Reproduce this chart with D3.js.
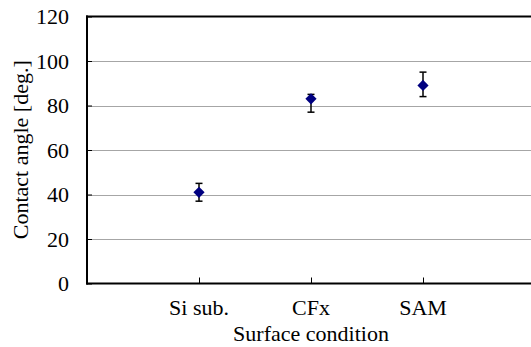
<!DOCTYPE html>
<meta charset="utf-8">
<script src="https://d3js.org/d3.v7.min.js"></script>
<style>
  body { margin: 0; background: #fff; }
</style>
<div id="chart"></div>
<script>

// data
var categories = ["Si sub.", "CFx", "SAM"];
var angle    = [41, 83, 89];
var errLow   = [37, 77, 84];
var errHigh  = [45, 85, 95];
var yTicks   = [0, 20, 40, 60, 80, 100, 120];

var W = 531, H = 347;
var margin = {top: 16, left: 87, bottom: 64};
var plotBottom = H - margin.bottom + 0.5;
var serif = "'Liberation Serif', 'Times New Roman', Times, serif";

var svg = d3.select("#chart")
  .append("svg")
    .attr("width", W)
    .attr("height", H)
    .style("font-family", serif);

// x is a plain 0..4 scale, categories sit at 1,2,3
var x = d3.scaleLinear()
  .domain([0, 4])
  .range([margin.left, margin.left + 4 * 112]);

var y = d3.scaleLinear()
  .domain([0, 120])
  .range([plotBottom, margin.top + 0.5]);

// gridlines
svg.append("g")
  .selectAll("line")
  .data(yTicks.filter(function(d) { return d > 0 && d < 120; }))
  .enter().append("line")
    .attr("x1", margin.left)
    .attr("x2", W)
    .attr("y1", function(d) { return Math.round(y(d)) + 0.5; })
    .attr("y2", function(d) { return Math.round(y(d)) + 0.5; })
    .attr("stroke", "#a6a6a6")
    .attr("stroke-width", 1);

// Y axis (ticks inside, labels drawn separately for font size)
var yAxis = svg.append("g")
  .attr("transform", "translate(" + margin.left + ",0)")
  .call(d3.axisRight(y).tickValues(yTicks).tickSize(5).tickFormat(""));
yAxis.select(".domain").remove();
yAxis.selectAll("line").attr("stroke", "#000");

svg.append("g")
  .selectAll("text")
  .data(yTicks)
  .enter().append("text")
    .attr("x", margin.left - 18)
    .attr("y", function(d) { return y(d); })
    .attr("dy", "0.35em")
    .attr("text-anchor", "end")
    .attr("font-family", serif)
    .attr("font-size", 22)
    .text(function(d) { return d; });

// X axis ticks, pointing up into the plot
var xAxis = svg.append("g")
  .attr("transform", "translate(0," + plotBottom + ")")
  .call(d3.axisTop(x).tickValues([1, 2, 3]).tickSize(6).tickFormat(""));
xAxis.select(".domain").remove();
xAxis.selectAll("line").attr("stroke", "#000");

svg.append("g")
  .selectAll("text")
  .data(categories)
  .enter().append("text")
    .attr("x", function(d, i) { return x(i + 1); })
    .attr("y", 315)
    .attr("text-anchor", "middle")
    .attr("font-family", serif)
    .attr("font-size", 22)
    .text(function(d) { return d; });

// frame: left, bottom and top lines
svg.append("line")
  .attr("x1", margin.left).attr("x2", margin.left)
  .attr("y1", y(120) - 1).attr("y2", plotBottom + 1)
  .attr("stroke", "#000").attr("stroke-width", 2);
svg.append("line")
  .attr("x1", margin.left - 1).attr("x2", W)
  .attr("y1", plotBottom).attr("y2", plotBottom)
  .attr("stroke", "#000").attr("stroke-width", 2);
svg.append("line")
  .attr("x1", margin.left - 1).attr("x2", W)
  .attr("y1", y(120)).attr("y2", y(120))
  .attr("stroke", "#000").attr("stroke-width", 2);

// error bars
var err = svg.append("g").selectAll("g")
  .data(angle)
  .enter().append("g");
err.append("line")
  .attr("x1", function(d, i) { return x(i + 1); })
  .attr("x2", function(d, i) { return x(i + 1); })
  .attr("y1", function(d, i) { return y(errLow[i]); })
  .attr("y2", function(d, i) { return y(errHigh[i]); })
  .attr("stroke", "#000").attr("stroke-width", 1.5);
err.append("line")
  .attr("x1", function(d, i) { return x(i + 1) - 3.5; })
  .attr("x2", function(d, i) { return x(i + 1) + 3.5; })
  .attr("y1", function(d, i) { return y(errLow[i]); })
  .attr("y2", function(d, i) { return y(errLow[i]); })
  .attr("stroke", "#000").attr("stroke-width", 1.5);
err.append("line")
  .attr("x1", function(d, i) { return x(i + 1) - 3.5; })
  .attr("x2", function(d, i) { return x(i + 1) + 3.5; })
  .attr("y1", function(d, i) { return y(errHigh[i]); })
  .attr("y2", function(d, i) { return y(errHigh[i]); })
  .attr("stroke", "#000").attr("stroke-width", 1.5);

// diamond markers
svg.append("g")
  .selectAll("path")
  .data(angle)
  .enter().append("path")
    .attr("d", d3.symbol().type(d3.symbolDiamond2).size(80))
    .attr("transform", function(d, i) { return "translate(" + x(i + 1) + "," + y(d) + ")"; })
    .attr("fill", "#000080");

// axis titles
svg.append("text")
  .attr("x", x(2))
  .attr("y", 341)
  .attr("text-anchor", "middle")
  .attr("font-family", serif)
  .attr("font-size", 22)
  .text("Surface condition");

svg.append("text")
  .attr("transform", "translate(28," + ((margin.top + plotBottom) / 2) + ")rotate(-90)")
  .attr("text-anchor", "middle")
  .attr("font-family", serif)
  .attr("font-size", 22)
  .text("Contact angle [deg.]");

</script>
